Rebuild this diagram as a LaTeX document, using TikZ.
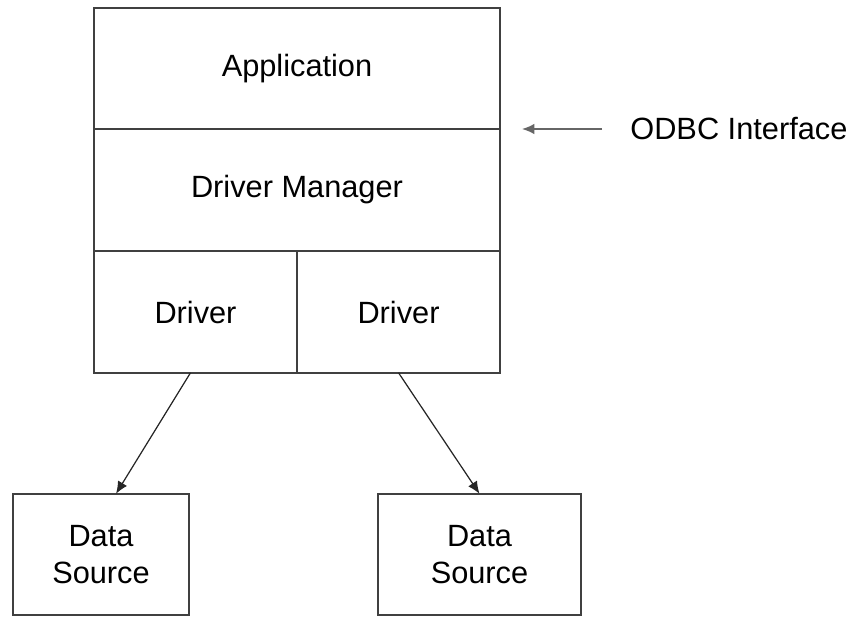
\documentclass[tikz,border=0pt]{standalone}
\usepackage{fontspec}
\setmainfont{Liberation Sans}
\usetikzlibrary{arrows.meta}
\begin{document}
\begin{tikzpicture}[
  layer/.style={draw=black!75, line width=1.1pt, inner sep=0pt, outer sep=0pt,
    minimum height=2.43cm, align=center, font=\fontsize{17.5}{21}\selectfont},
  link/.style={-{Latex[length=7pt,width=6pt]}, line width=0.7pt, black!85}
]
\useasboundingbox (0,0) rectangle (17.04,-12.32);
\node[layer, minimum width=8.12cm] (app) at (5.94,-1.37) {Application};
\node[layer, minimum width=8.12cm] (mgr) at (5.94,-3.80) {Driver Manager};
\node[layer, minimum width=4.06cm] (drv1) at (3.91,-6.24) {Driver};
\node[layer, minimum width=4.06cm] (drv2) at (7.97,-6.24) {Driver};
\node[layer, minimum width=3.52cm] (ds1) at (2.02,-11.09) {Data\\Source};
\node[layer, minimum width=4.06cm] (ds2) at (9.59,-11.09) {Data\\Source};
\coordinate (ifc) at (10.44,-2.58);
\node[anchor=west, inner sep=0pt, font=\fontsize{17.5}{21}\selectfont] (odbc) at (12.6,-2.58) {ODBC Interface};
\draw[link, black!60, line width=1pt] ([xshift=-0.56cm]odbc.west) -- (ifc);
\draw[link] ([xshift=-0.1cm]drv1.south) -- ([xshift=0.3cm]ds1.north);
\draw[link] (drv2.south) -- (ds2.north);
\end{tikzpicture}
\end{document}
